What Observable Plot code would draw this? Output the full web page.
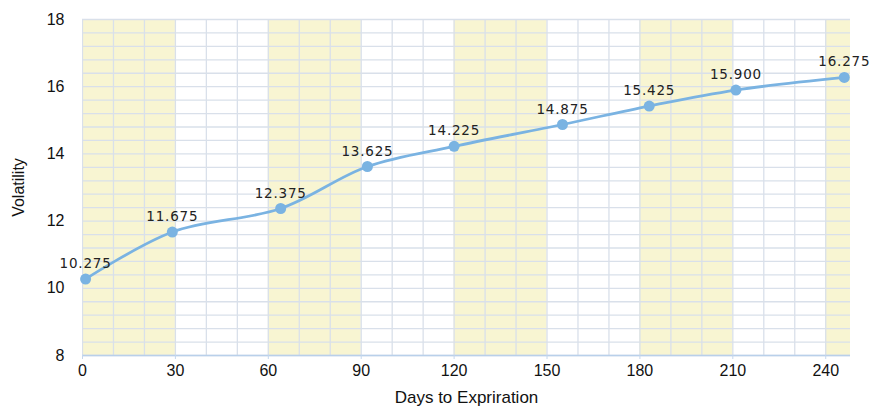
<!DOCTYPE html>
<html>
<head>
<meta charset="utf-8">
<script src="https://cdn.jsdelivr.net/npm/d3@7"></script>
<script src="https://cdn.jsdelivr.net/npm/@observablehq/plot@0.6"></script>
<style>
  html, body { margin: 0; padding: 0; background: #fff; }
  .vol-labels text { letter-spacing: 0.8px; }
</style>
</head>
<body>
<div id="chart"></div>
<script>
// Days to expiration for each monthly contract
const days = [1, 29, 64, 92, 120, 155, 183, 211, 246];
// Implied volatility for each contract
const volatility = [10.275, 11.675, 12.375, 13.625, 14.225, 14.875, 15.425, 15.900, 16.275];
// Axis ticks
const xTicks = [0, 30, 60, 90, 120, 150, 180, 210, 240];
const yTicks = [8, 10, 12, 14, 16, 18];
// Start day of each shaded 30-day band
const bandStarts = [0, 60, 120, 180, 240];

const points = days.map((d, i) => ({day: d, vol: volatility[i]}));
const bands = bandStarts.map(s => ({x1: s, x2: s + 30}));
const gridX = d3.range(0, 26).map(i => i * 10);
const gridY = d3.range(0, 26).map(i => 8 + i * 0.4);

const chart = Plot.plot({
  width: 871,
  height: 407,
  marginLeft: 82,
  marginRight: 21,
  marginTop: 19,
  marginBottom: 52,
  style: {fontFamily: "'Liberation Sans', Arial, sans-serif", fontSize: "16px", color: "#111", background: "#fff"},
  x: {domain: [0, 248]},
  y: {domain: [8, 18]},
  marks: [
    Plot.rect(bands, {x1: "x1", x2: "x2", fill: "#f8f5d2", clip: true}),
    Plot.ruleX(gridX, {stroke: "#d9e0ea", strokeWidth: 1.3, clip: true}),
    Plot.ruleY(gridY, {stroke: "#d9e0ea", strokeWidth: 1.3}),
    Plot.ruleY([8], {stroke: "#b9d0ea", strokeWidth: 1.5}),
    Plot.axisX({ticks: xTicks, tickSize: 4, tickPadding: 5, stroke: "#c4d7ee", fill: "#111", label: null}),
    Plot.axisX({ticks: [], fontSize: 17, fill: "#111",
                label: "Days to Expriration", labelAnchor: "center", labelArrow: "none", labelOffset: 47}),
    Plot.axisY({ticks: yTicks, tickSize: 0, tickPadding: 18, fill: "#111",
                label: "Volatility", labelAnchor: "center", labelArrow: "none", labelOffset: 70}),
    Plot.line(points, {x: "day", y: "vol", curve: "catmull-rom", stroke: "#7ab3e2", strokeWidth: 2.8}),
    Plot.dot(points, {x: "day", y: "vol", r: 5.5, fill: "#7ab3e2", stroke: "none"}),
    Plot.text(points, {x: "day", y: "vol", text: d => d.vol.toFixed(3), dy: -11, lineAnchor: "bottom",
                       fontFamily: "'DejaVu Sans', Verdana, sans-serif", fontSize: 13.5, fill: "#222",
                       className: "vol-labels"})
  ]
});
document.getElementById("chart").appendChild(chart);
</script>
</body>
</html>
